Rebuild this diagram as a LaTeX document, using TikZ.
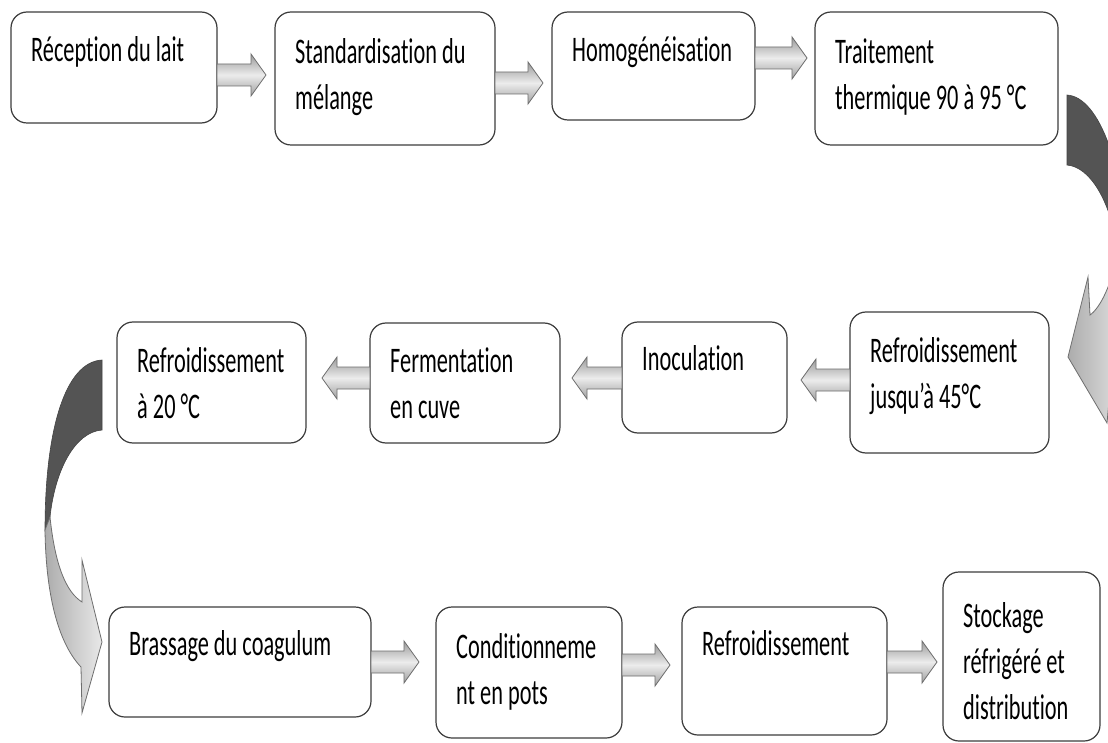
\documentclass[tikz,border=0pt]{standalone}
\usepackage{fontspec}
\setmainfont{Carlito}[FakeStretch=0.62,Ligatures=NoCommon]
\usetikzlibrary{calc}
\definecolor{boxline}{HTML}{3C3C3C}
\definecolor{darktail}{HTML}{545454}
\definecolor{arrowline}{HTML}{6E6E6E}

\tikzset{
  stepbox/.style={draw=boxline, line width=1.2pt, rounded corners=16pt, fill=white,
                  inner sep=0pt, outer sep=0pt, anchor=north west},
  steptext/.style={anchor=base west, inner sep=0pt, font=\fontsize{36}{46}\selectfont},
  blockarrow/.style={draw=arrowline, line width=0.8pt, top color=gray!80,
                     bottom color=gray!75, middle color=gray!15},
  tailpart/.style={fill=darktail, draw=darktail!80!black, line width=0.6pt},
  headpart/.style={draw=arrowline, line width=0.8pt, left color=gray!65, right color=gray!18},
}

\newcommand\stepnode[7]{%
  \node[stepbox, minimum width={(#4-#2)*1pt}, minimum height={(#5-#3)*1pt}] (#1) at (#2,#3) {};
  \node[steptext] (#1t) at (#2+20,#3+#6) {\parbox[t]{400pt}{\raggedright #7}};
}

\newcommand\blockarrow[2]{%
  \path[blockarrow] let \p1=(#1), \p2=(#2), \n1={sign(\x2-\x1)} in
    (\x1,{\y1+11pt}) -- ({\x2-(\n1)*15pt},{\y1+11pt}) -- ({\x2-(\n1)*15pt},{\y1+21pt})
    -- (\x2,\y1) -- ({\x2-(\n1)*15pt},{\y1-21pt}) -- ({\x2-(\n1)*15pt},{\y1-11pt})
    -- (\x1,{\y1-11pt}) -- cycle;
}

\begin{document}
\begin{tikzpicture}[x=1pt,y=-1pt]
\useasboundingbox (0,0) rectangle (1108,743);
\fill[white] (0,0) rectangle (1108,743);

% row 1
\stepnode{b1}{11}{12}{217}{123}{50}{Réception du lait}
\stepnode{b2}{275}{12}{495}{145}{52}{Standardisation du\\mélange}
\stepnode{b3}{552}{12}{755}{120}{50}{Homogénéisation}
\stepnode{b4}{815}{12}{1058}{145}{52}{Traitement\\thermique 90 à 95 °C}
% row 2
\stepnode{b8}{850}{312}{1049}{453}{50}{Refroidissement\\jusqu’à 45°C}
\stepnode{b7}{622}{322}{787}{433}{48}{Inoculation}
\stepnode{b6}{370}{323}{560}{443}{49}{Fermentation\\en cuve}
\stepnode{b5}{117}{322}{306}{443}{50}{Refroidissement\\à 20 °C}
% row 3
\stepnode{b9}{109}{607}{371}{717}{48}{Brassage du coagulum}
\stepnode{b10}{436}{607}{622}{738}{51}{Conditionneme\\nt en pots}
\stepnode{b11}{682}{607}{887}{735}{48}{Refroidissement}
\stepnode{b12}{943}{572}{1100}{741}{55}{Stockage\\réfrigéré et\\distribution}

% straight connectors
\coordinate (a1s) at (b1.east |- 0,75);   \coordinate (a1e) at ($(b2.west |- 0,75)+(-9,0)$);
\coordinate (a2s) at (b2.east |- 0,83);   \coordinate (a2e) at ($(b3.west |- 0,83)+(-9,0)$);
\coordinate (a3s) at (b3.east |- 0,58);   \coordinate (a3e) at ($(b4.west |- 0,58)+(-8,0)$);
\coordinate (a4s) at (b8.west |- 0,380);  \coordinate (a4e) at ($(b7.east |- 0,380)+(14,0)$);
\coordinate (a5s) at (b7.west |- 0,378);  \coordinate (a5e) at ($(b6.east |- 0,378)+(12,0)$);
\coordinate (a6s) at (b6.west |- 0,378);  \coordinate (a6e) at ($(b5.east |- 0,378)+(16,0)$);
\coordinate (a7s) at (b9.east |- 0,662);  \coordinate (a7e) at ($(b10.west |- 0,662)+(-17,0)$);
\coordinate (a8s) at (b10.east |- 0,665); \coordinate (a8e) at ($(b11.west |- 0,665)+(-12,0)$);
\coordinate (a9s) at (b11.east |- 0,662); \coordinate (a9e) at ($(b12.west |- 0,662)+(-6,0)$);
\blockarrow{a1s}{a1e}
\blockarrow{a2s}{a2e}
\blockarrow{a3s}{a3e}
\blockarrow{a4s}{a4e}
\blockarrow{a5s}{a5e}
\blockarrow{a6s}{a6e}
\blockarrow{a7s}{a7e}
\blockarrow{a8s}{a8e}
\blockarrow{a9s}{a9e}

% curved connectors
\begin{scope}
\clip (0,0) rectangle (1108,743);
% b4 -> b8 (right side)
\coordinate (c1s) at (1067,95);
\coordinate (c1e) at (1068,357);
\path[tailpart] (c1s) .. controls (1100,97) and (1125,170) .. (1128,260)
  -- (1118,250) .. controls (1110,200) and (1090,167) .. (1067,165) -- cycle;
\path[headpart] (1118,250) .. controls (1112,285) and (1100,308) .. (1090,315)
  -- (1088,277) -- (c1e) -- (1107,423) -- (1110,390) .. controls (1125,360) and (1130,320) .. (1128,260) -- cycle;
% b5 -> b9 (left side)
\coordinate (c2s) at (102,360);
\coordinate (c2e) at (102,642);
\path[tailpart] (c2s) .. controls (65,362) and (45,430) .. (45,530)
  -- (50,517) .. controls (55,470) and (75,432) .. (102,430) -- cycle;
\path[headpart] (50,517) .. controls (55,565) and (66,592) .. (82,602)
  -- (82,560) -- (c2e) -- (82,713) -- (81,667) .. controls (60,645) and (46,600) .. (45,530) -- cycle;
\end{scope}
\end{tikzpicture}
\end{document}
